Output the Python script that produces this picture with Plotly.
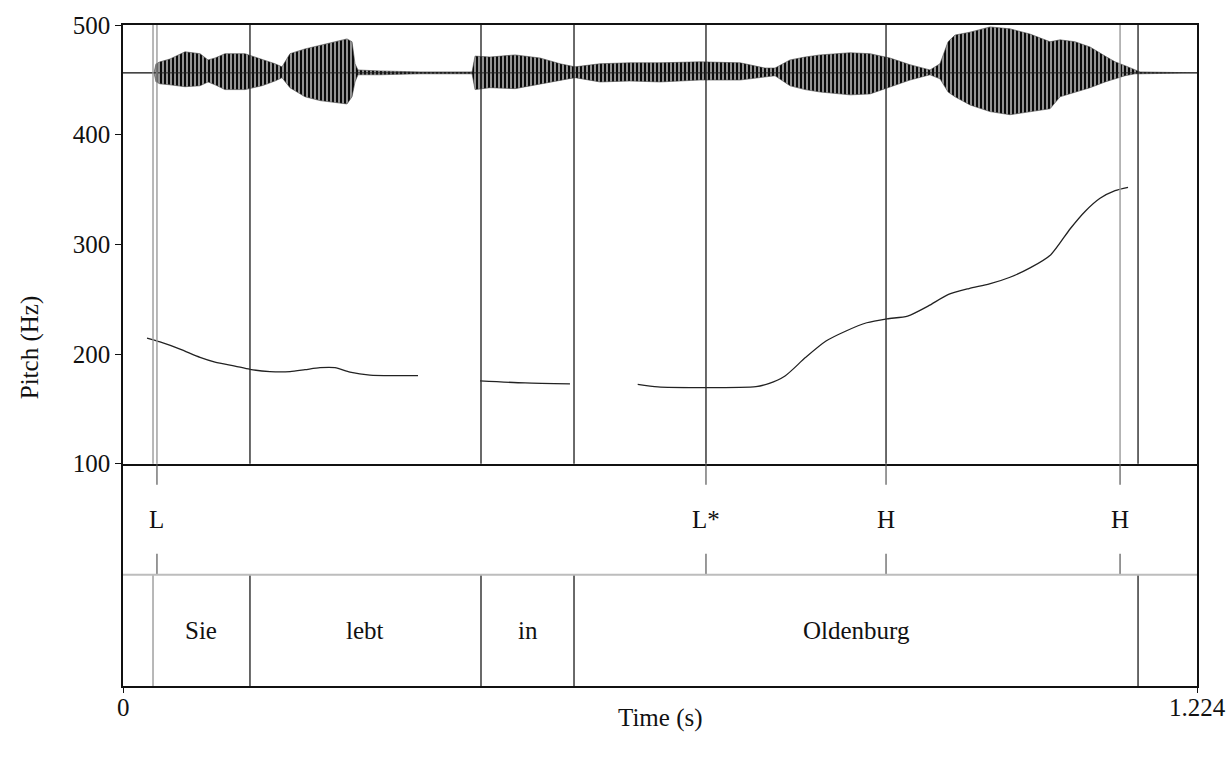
import plotly.graph_objects as go

# ---------------- data ----------------
T_MAX = 1.224

# pitch contour segments (time s, F0 Hz)
pitch1_t = [0.0274, 0.0422, 0.0650, 0.0878, 0.1049, 0.1276, 0.1447, 0.1675, 0.1903,
            0.2074, 0.2245, 0.2416, 0.2587, 0.2815, 0.3100, 0.3362]
pitch1_f = [214.5, 211.0, 204.5, 197.0, 192.7, 189.0, 186.0, 184.0, 184.0,
            185.7, 187.5, 187.5, 183.5, 180.8, 180.3, 180.3]
pitch2_t = [0.4069, 0.4582, 0.5094]
pitch2_f = [175.5, 173.6, 172.7]
pitch3_t = [0.5866, 0.6097, 0.6610, 0.7214, 0.7358, 0.7545, 0.7777, 0.8012, 0.8240,
            0.8476, 0.8707, 0.8942, 0.9175, 0.9408, 0.9642, 0.9875, 1.0109, 1.0337,
            1.0574, 1.0793, 1.0964, 1.1135, 1.1306, 1.1454]
pitch3_f = [172.4, 170.0, 169.4, 170.3, 173.0, 180.0, 196.7, 211.8, 221.0,
            228.5, 232.1, 234.5, 243.6, 254.3, 259.7, 263.9, 270.0, 278.5,
            290.6, 314.0, 330.0, 342.0, 349.0, 352.0]

# waveform amplitude envelope (relative units)
wave_t = [0.0, 0.0353, 0.0376, 0.0422, 0.0536, 0.0707, 0.0878, 0.0969, 0.1049, 0.1162,
          0.1390, 0.1584, 0.1732, 0.1812, 0.1903, 0.2074, 0.2245, 0.2416, 0.2553, 0.2610,
          0.2644, 0.2678, 0.2929, 0.3385, 0.3978, 0.4012, 0.4183, 0.4468, 0.4753, 0.4980,
          0.5151, 0.5436, 0.5778, 0.6120, 0.6576, 0.7032, 0.7317, 0.7431, 0.7602, 0.7773,
          0.7944, 0.8286, 0.8514, 0.8741, 0.8969, 0.9197, 0.9311, 0.9403, 0.9482, 0.9653,
          0.9881, 1.0109, 1.0337, 1.0565, 1.0679, 1.0850, 1.1021, 1.1192, 1.1306, 1.1420,
          1.1534, 1.1591, 1.2240]
wave_hi = [0.0, 0.0, 0.19, 0.23, 0.29, 0.44, 0.40, 0.27, 0.31, 0.40,
           0.40, 0.29, 0.19, 0.125, 0.40, 0.50, 0.58, 0.65, 0.71, 0.65,
           0.19, 0.06, 0.04, 0.02, 0.02, 0.35, 0.33, 0.375, 0.31, 0.19,
           0.125, 0.19, 0.21, 0.21, 0.23, 0.21, 0.10, 0.10, 0.27, 0.33,
           0.375, 0.42, 0.40, 0.31, 0.17, 0.06, 0.19, 0.65, 0.79, 0.85,
           0.96, 0.92, 0.81, 0.65, 0.69, 0.65, 0.54, 0.35, 0.23, 0.15,
           0.06, 0.02, 0.0]
wave_lo = [0.0, 0.0, -0.19, -0.23, -0.25, -0.29, -0.27, -0.19, -0.25, -0.35,
           -0.35, -0.27, -0.17, -0.10, -0.31, -0.50, -0.58, -0.625, -0.65, -0.50,
           -0.19, -0.04, -0.04, -0.02, -0.02, -0.35, -0.31, -0.33, -0.23, -0.15,
           -0.10, -0.19, -0.17, -0.19, -0.15, -0.15, -0.08, -0.06, -0.27, -0.35,
           -0.40, -0.46, -0.44, -0.29, -0.15, -0.04, -0.125, -0.40, -0.50, -0.67,
           -0.81, -0.875, -0.81, -0.75, -0.50, -0.40, -0.31, -0.19, -0.125, -0.06,
           -0.02, -0.02, 0.0]

# tone tier
tone_t = [0.0387, 0.6644, 0.8696, 1.1363]
tone_lab = ["L", "L*", "H", "H"]

# word tier
word_bounds = [0.0342, 0.1447, 0.4080, 0.5140, 1.1568]
words = ["Sie", "lebt", "in", "Oldenburg"]

pitch_ticks = [100, 200, 300, 400, 500]
time_ticks = [0, T_MAX]
time_ticklab = ["0", "1.224"]

# ---------------- figure ----------------
FONT = "Liberation Serif"
FS = 25
DARK = "#2a2a2a"
LIGHT = "#9a9a9a"
PLOT_H = 663.0
split = 440 / PLOT_H  # pitch panel share of plot height
pitch_dom = [1 - split, 1]
tier_dom = [0, 1 - split]

fig = go.Figure()

# waveform envelope (on overlaid axis)
fig.add_trace(go.Scatter(x=wave_t, y=wave_lo, xaxis="x2", yaxis="y3", mode="lines",
                         line=dict(color="#444", width=0.6), showlegend=False,
                         hoverinfo="skip"))
fig.add_trace(go.Scatter(x=wave_t, y=wave_hi, xaxis="x2", yaxis="y3", mode="lines",
                         line=dict(color="#444", width=0.6), fill="tonexty",
                         fillcolor="#777",
                         fillpattern=dict(shape="|", size=4, solidity=0.6,
                                          fgcolor="#0a0a0a", bgcolor="#b5b5b5",
                                          fillmode="replace"),
                         showlegend=False, hoverinfo="skip"))
fig.add_trace(go.Scatter(x=[0, T_MAX], y=[0, 0], xaxis="x2", yaxis="y3", mode="lines",
                         line=dict(color="#222", width=1), showlegend=False,
                         hoverinfo="skip"))

# pitch contour
for tt, ff in [(pitch1_t, pitch1_f), (pitch2_t, pitch2_f), (pitch3_t, pitch3_f)]:
    fig.add_trace(go.Scatter(x=tt, y=ff, xaxis="x2", yaxis="y", mode="lines",
                             line=dict(color="#222", width=1.3, shape="spline",
                                       smoothing=0.7),
                             showlegend=False))

shapes = []
light_bounds = {0}
for i, b in enumerate(word_bounds):
    col = LIGHT if i in light_bounds else DARK
    shapes.append(dict(type="line", xref="x", yref="y domain", x0=b, x1=b, y0=0, y1=1,
                       line=dict(color=col, width=1.4)))
    shapes.append(dict(type="line", xref="x", yref="y2", x0=b, x1=b, y0=0, y1=1,
                       line=dict(color=col, width=1.4)))
light_tones = {0, len(tone_t) - 1}
for i, t in enumerate(tone_t):
    col = LIGHT if i in light_tones else DARK
    shapes.append(dict(type="line", xref="x", yref="y domain", x0=t, x1=t, y0=0, y1=1,
                       line=dict(color=col, width=1.4)))
    shapes.append(dict(type="line", xref="x", yref="y2", x0=t, x1=t, y0=2, y1=1.81,
                       line=dict(color="#555", width=1.2)))
    shapes.append(dict(type="line", xref="x", yref="y2", x0=t, x1=t, y0=1, y1=1.19,
                       line=dict(color="#555", width=1.2)))
# tier separator
shapes.append(dict(type="line", xref="paper", yref="y2", x0=0, x1=1, y0=1, y1=1,
                   line=dict(color="#bdbdbd", width=2)))

txt = dict(family=FONT, size=FS, color="#111")
annotations = []
for t, lab in zip(tone_t, tone_lab):
    annotations.append(dict(x=t, y=1.5, xref="x", yref="y2", text=lab, showarrow=False,
                            xanchor="center", yanchor="middle", font=txt))
for i, w in enumerate(words):
    mid = (word_bounds[i] + word_bounds[i + 1]) / 2
    annotations.append(dict(x=mid, y=0.5, xref="x", yref="y2", text=w, showarrow=False,
                            xanchor="center", yanchor="middle", font=txt))
for v, lab in zip(time_ticks, time_ticklab):
    annotations.append(dict(x=v, y=-22 / PLOT_H, xref="x", yref="paper", text=lab,
                            showarrow=False, xanchor="center", yanchor="middle", font=txt))
annotations.append(dict(x=-93 / 1074.0, y=0.511, xref="paper", yref="paper",
                        text="Pitch (Hz)", textangle=-90, showarrow=False,
                        xanchor="center", yanchor="middle", font=txt))
annotations.append(dict(x=0.5, y=-32 / PLOT_H, xref="paper", yref="paper", text="Time (s)",
                        showarrow=False, xanchor="center", yanchor="middle", font=txt))

axis_common = dict(showgrid=False, zeroline=False, linecolor="#111", linewidth=1.6)

fig.update_layout(
    width=1232, height=759,
    margin=dict(l=123, r=35, t=23, b=73),
    paper_bgcolor="white", plot_bgcolor="white",
    font=txt,
    xaxis=dict(domain=[0, 1], range=[0, T_MAX], anchor="y2", tickvals=time_ticks,
               showticklabels=False, ticks="outside", ticklen=5, tickcolor="#111",
               showline=True, mirror=False, **axis_common),
    xaxis2=dict(domain=[0, 1], range=[0, T_MAX], matches="x", anchor="y",
                showticklabels=False, showline=True, mirror=True, **axis_common),
    yaxis=dict(domain=pitch_dom, range=[100, 500], anchor="x2", tickvals=pitch_ticks,
               ticks="outside", ticklen=6, tickcolor="#111", showline=True,
               mirror=True, tickfont=txt, **axis_common),
    yaxis2=dict(domain=tier_dom, range=[0, 2], anchor="x", showticklabels=False,
                showline=True, mirror=True, **axis_common),
    yaxis3=dict(overlaying="y", range=[-8.167, 1], visible=False, anchor="x2",
                showgrid=False, zeroline=False),
    shapes=shapes,
    annotations=annotations,
)

fig.write_html("out.html")
